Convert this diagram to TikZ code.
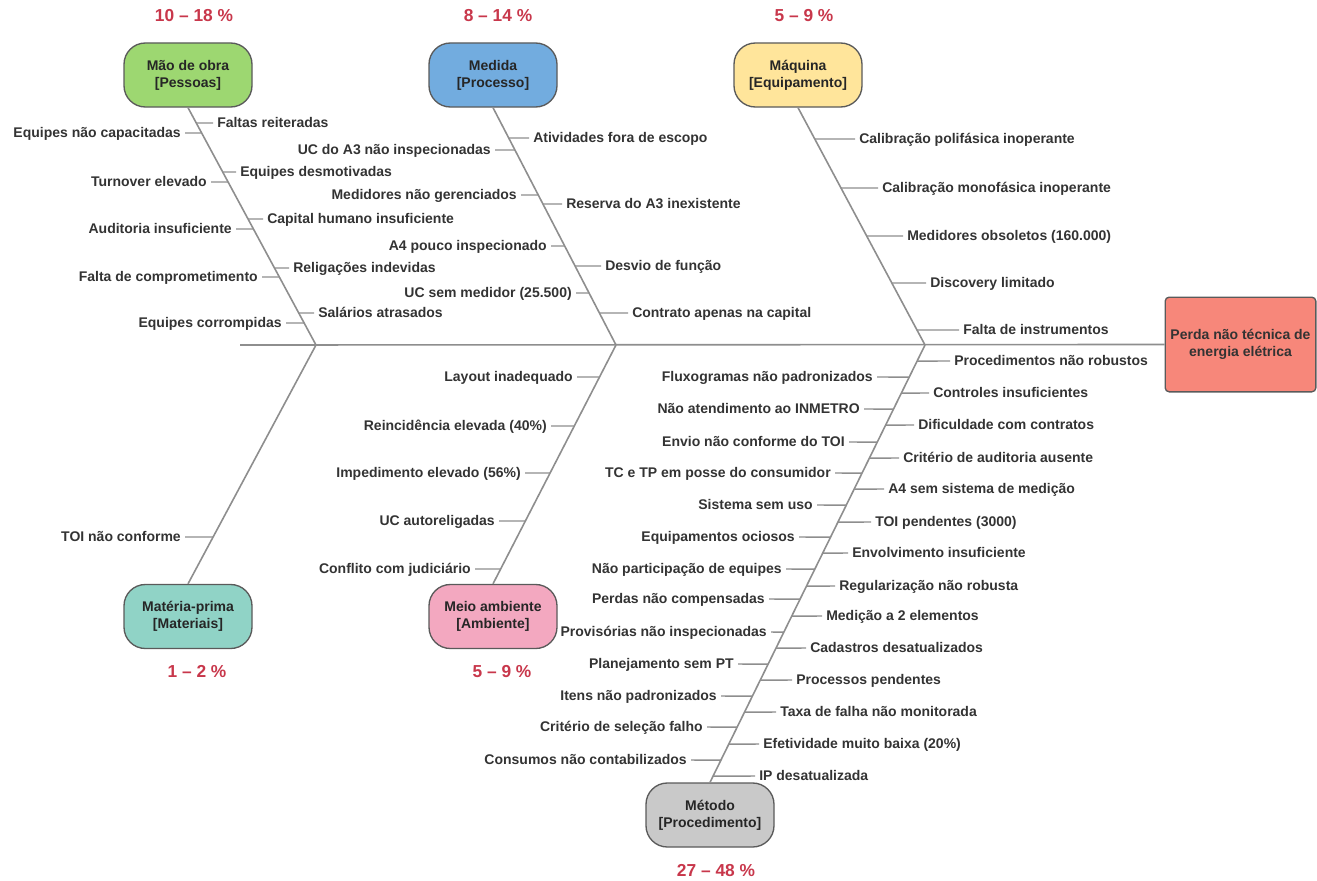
\documentclass[tikz,border=0pt]{standalone}
\usepackage{fontspec}
\setmainfont{Liberation Sans}
\usetikzlibrary{calc}
\definecolor{linec}{HTML}{8E8E8E}
\definecolor{txtc}{HTML}{333333}
\definecolor{pctred}{HTML}{C8374B}
\definecolor{bordc}{HTML}{5A5A5A}
\definecolor{cgreen}{HTML}{9DD771}
\definecolor{cblue}{HTML}{72ACDF}
\definecolor{cyellow}{HTML}{FFE59B}
\definecolor{cteal}{HTML}{90D3C6}
\definecolor{cpink}{HTML}{F3A8C0}
\definecolor{cgray}{HTML}{C9C9C9}
\definecolor{csalmon}{HTML}{F7877A}
\tikzset{
  lbl/.style={font=\fontsize{10.5}{12.75}\selectfont\bfseries, text=txtc, inner xsep=3pt, inner ysep=1pt, text height=9.4pt, text depth=2pt},
  tick/.style={draw=linec, line width=1.1pt},
  bone/.style={draw=linec, line width=1.2pt},
  cat/.style={rounded corners=16pt, draw=bordc, line width=1pt, minimum width=96pt, minimum height=48pt, align=center, inner sep=2pt, font=\fontsize{10.5}{12.75}\selectfont\bfseries, text=black!85},
  pct/.style={font=\fontsize{13}{15}\selectfont\bfseries, text=pctred, inner sep=0pt},
}
\newcommand\brR[6]{%
  \coordinate (#1b) at (intersection of #2--#3 and 0,#4--1,#4);
  \node[lbl,anchor=west] (#1) at ([xshift=-3pt]#5,#4) {#6};
  \draw[tick] (#1b) -- (#1.west);}
\newcommand\brL[6]{%
  \coordinate (#1b) at (intersection of #2--#3 and 0,#4--1,#4);
  \node[lbl,anchor=east] (#1) at ([xshift=3pt]#5,#4) {#6};
  \draw[tick] (#1b) -- (#1.east);}
\begin{document}
\begin{tikzpicture}[x=0.75pt,y=-0.75pt]
\useasboundingbox (0,0) rectangle (1317,881);
% categories
\node[cat, fill=cgreen]  (mao)     at (188,75)  {Mão de obra\\{[}Pessoas{]}};
\node[cat, fill=cblue]   (medida)  at (493,75)  {Medida\\{[}Processo{]}};
\node[cat, fill=cyellow] (maquina) at (798,75)  {Máquina\\{[}Equipamento{]}};
\node[cat, fill=cteal]   (materia) at (188,616.5) {Matéria-prima\\{[}Materiais{]}};
\node[cat, fill=cpink]   (meio)    at (493,616.5) {Meio ambiente\\{[}Ambiente{]}};
\node[cat, fill=cgray]   (metodo)  at (710,815) {Método\\{[}Procedimento{]}};
\node[draw=bordc, line width=1pt, fill=csalmon, rounded corners=3pt, minimum width=113pt, minimum height=71pt, align=center, font=\fontsize{10.5}{12.75}\selectfont\bfseries, text=txtc] (perda) at (1240.5,344.5) {Perda não técnica de\\energia elétrica};
% percentages
\node[pct] (p1) at (194,16) {10 – 18 \%};
\node[pct] (p2) at (498,16) {8 – 14 \%};
\node[pct] (p3) at (804,16) {5 – 9 \%};
\node[pct] (p4) at (197,672) {1 – 2 \%};
\node[pct] (p5) at (502,672) {5 – 9 \%};
\node[pct] (p6) at (716,871) {27 – 48 \%};
% spine and bones
\coordinate (spineL) at (240,345);
\coordinate (J1) at (316,345);
\coordinate (J2) at (616,345);
\coordinate (J3) at (925,345);
\draw[bone] (spineL) -- (perda.west);
\draw[bone] (mao.south) -- (J1);
\draw[bone] (medida.south) -- (J2);
\draw[bone] (maquina.south) -- (J3);
\draw[bone] (materia.north) -- (J1);
\draw[bone] (meio.north) -- (J2);
\draw[bone] (metodo.north) -- (J3);
% Mao de obra
\brR{ma1}{mao.south}{J1}{123}{217}{Faltas reiteradas}
\brR{ma2}{mao.south}{J1}{172}{240}{Equipes desmotivadas}
\brR{ma3}{mao.south}{J1}{219}{267}{Capital humano insuficiente}
\brR{ma4}{mao.south}{J1}{268}{293}{Religações indevidas}
\brR{ma5}{mao.south}{J1}{313}{318}{Salários atrasados}
\brL{ma6}{mao.south}{J1}{133}{181}{Equipes não capacitadas}
\brL{ma7}{mao.south}{J1}{182}{207}{Turnover elevado}
\brL{ma8}{mao.south}{J1}{229}{232}{Auditoria insuficiente}
\brL{ma9}{mao.south}{J1}{277}{258}{Falta de comprometimento}
\brL{ma10}{mao.south}{J1}{323}{282}{Equipes corrompidas}
% Medida
\brR{me1}{medida.south}{J2}{138}{533}{Atividades fora de escopo}
\brR{me2}{medida.south}{J2}{204}{566}{Reserva do A3 inexistente}
\brR{me3}{medida.south}{J2}{266}{605}{Desvio de função}
\brR{me4}{medida.south}{J2}{313}{632}{Contrato apenas na capital}
\brL{me5}{medida.south}{J2}{150}{491}{UC do A3 não inspecionadas}
\brL{me6}{medida.south}{J2}{195}{517}{Medidores não gerenciados}
\brL{me7}{medida.south}{J2}{246}{547}{A4 pouco inspecionado}
\brL{me8}{medida.south}{J2}{293}{572}{UC sem medidor (25.500)}
% Maquina
\brR{mq1}{maquina.south}{J3}{139}{859}{Calibração polifásica inoperante}
\brR{mq2}{maquina.south}{J3}{188}{882}{Calibração monofásica inoperante}
\brR{mq3}{maquina.south}{J3}{236}{907}{Medidores obsoletos (160.000)}
\brR{mq4}{maquina.south}{J3}{283}{930}{Discovery limitado}
\brR{mq5}{maquina.south}{J3}{330}{963}{Falta de instrumentos}
% Materia-prima
\brL{mt1}{materia.north}{J1}{537}{181}{TOI não conforme}
% Meio ambiente
\brL{mb1}{meio.north}{J2}{377}{573}{Layout inadequado}
\brL{mb2}{meio.north}{J2}{426}{547}{Reincidência elevada (40\%)}
\brL{mb3}{meio.north}{J2}{473}{521}{Impedimento elevado (56\%)}
\brL{mb4}{meio.north}{J2}{521}{495}{UC autoreligadas}
\brL{mb5}{meio.north}{J2}{569}{471}{Conflito com judiciário}
% Metodo right
\brR{md1}{metodo.north}{J3}{361}{954}{Procedimentos não robustos}
\brR{md2}{metodo.north}{J3}{393}{933}{Controles insuficientes}
\brR{md3}{metodo.north}{J3}{425}{918}{Dificuldade com contratos}
\brR{md4}{metodo.north}{J3}{458}{903}{Critério de auditoria ausente}
\brR{md5}{metodo.north}{J3}{489}{888}{A4 sem sistema de medição}
\brR{md6}{metodo.north}{J3}{522}{875}{TOI pendentes (3000)}
\brR{md7}{metodo.north}{J3}{553}{852}{Envolvimento insuficiente}
\brR{md8}{metodo.north}{J3}{586}{839}{Regularização não robusta}
\brR{md9}{metodo.north}{J3}{616}{826}{Medição a 2 elementos}
\brR{md10}{metodo.north}{J3}{648}{810}{Cadastros desatualizados}
\brR{md11}{metodo.north}{J3}{680}{796}{Processos pendentes}
\brR{md12}{metodo.north}{J3}{712}{780}{Taxa de falha não monitorada}
\brR{md13}{metodo.north}{J3}{744}{763}{Efetividade muito baixa (20\%)}
\brR{md14}{metodo.north}{J3}{776}{759}{IP desatualizada}
% Metodo left
\brL{ml1}{metodo.north}{J3}{377}{873}{Fluxogramas não padronizados}
\brL{ml2}{metodo.north}{J3}{409}{860}{Não atendimento ao INMETRO}
\brL{ml3}{metodo.north}{J3}{442}{845}{Envio não conforme do TOI}
\brL{ml4}{metodo.north}{J3}{473}{831}{TC e TP em posse do consumidor}
\brL{ml5}{metodo.north}{J3}{505}{813}{Sistema sem uso}
\brL{ml6}{metodo.north}{J3}{537}{795}{Equipamentos ociosos}
\brL{ml7}{metodo.north}{J3}{569}{782}{Não participação de equipes}
\brL{ml8}{metodo.north}{J3}{599}{765}{Perdas não compensadas}
\brL{ml9}{metodo.north}{J3}{632}{767}{Provisórias não inspecionadas}
\brL{ml10}{metodo.north}{J3}{664}{734}{Planejamento sem PT}
\brL{ml11}{metodo.north}{J3}{696}{717}{Itens não padronizados}
\brL{ml12}{metodo.north}{J3}{727}{703}{Critério de seleção falho}
\brL{ml13}{metodo.north}{J3}{760}{687}{Consumos não contabilizados}
\end{tikzpicture}
\end{document}
